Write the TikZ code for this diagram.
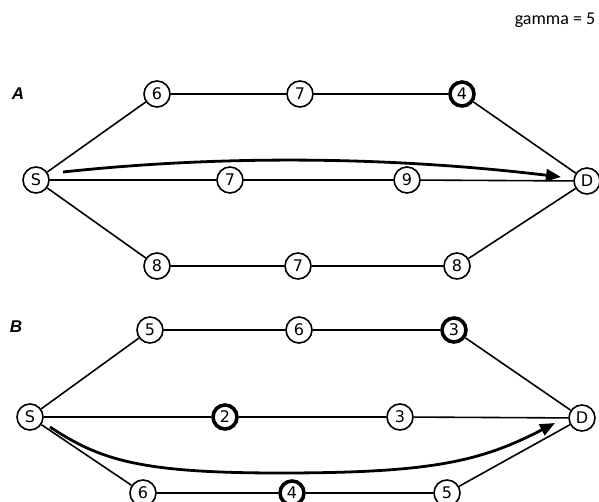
\documentclass[tikz,border=0pt]{standalone}
\usepackage{fontspec}
\setmainfont{Carlito}
\newfontfamily\nodefont{DejaVu Sans}
\newfontfamily\panelfont{Liberation Sans}
\usetikzlibrary{arrows.meta}
\begin{document}
\begin{tikzpicture}[x=1pt,y=-1pt,
every node/.style={circle,draw,line width=1.6pt,minimum size=26pt,inner sep=0pt,fill=white,font=\nodefont\fontsize{16}{16}\selectfont},
heavy/.style={line width=3.6pt,minimum size=24pt},
edge/.style={line width=1.6pt},
flow/.style={line width=2.8pt,-{Triangle[length=15pt,width=12pt]}},
panel/.style={draw=none,fill=none,font=\panelfont\bfseries\itshape\fontsize{17}{17}\selectfont},
]
\useasboundingbox (0,0) rectangle (599,502);
\node[draw=none,fill=none,font=\fontsize{18}{18}\selectfont] (gamma) at (555,20) {gamma = 5};
% panel A
\node[panel] (labA) at (18,94) {A};
\node (sA) at (36,180) {S};
\node (dA) at (587,181) {D};
\node (a1) at (157,94) {6};
\node (a2) at (300,94) {7};
\node[heavy] (a3) at (462,94) {4};
\node (a4) at (230,180) {7};
\node (a5) at (407,180) {9};
\node (a6) at (157,266) {8};
\node (a7) at (298,266) {7};
\node (a8) at (457,266) {8};
\draw[edge] (sA) -- (a1) -- (a2) -- (a3) -- (dA);
\draw[edge] (sA) -- (a4) -- (a5) -- (dA);
\draw[edge] (sA) -- (a6) -- (a7) -- (a8) -- (dA);
\coordinate (fromA) at (63,172);
\coordinate (toA) at (561,177);
\draw[flow] (fromA) .. controls (250,152) and (420,160) .. (toA);
% panel B
\node[panel] (labB) at (16,327) {B};
\node (sB) at (30,417) {S};
\node (dB) at (582,418) {D};
\node (b1) at (150,330) {5};
\node (b2) at (299,330) {6};
\node[heavy] (b3) at (454,330) {3};
\node[heavy] (b4) at (225,417) {2};
\node (b5) at (400,417) {3};
\node (b6) at (143,493) {6};
\node[heavy] (b7) at (292,493) {4};
\node (b8) at (447,493) {5};
\draw[edge] (sB) -- (b1) -- (b2) -- (b3) -- (dB);
\draw[edge] (sB) -- (b4) -- (b5) -- (dB);
\draw[edge] (sB) -- (b6) -- (b7) -- (b8) -- (dB);
\coordinate (fromB) at (50,427);
\coordinate (toB) at (555,423);
\draw[flow] (fromB) .. controls (100,460) and (140,473) .. (280,473)
  .. controls (430,473) and (480,462) .. (toB);
\end{tikzpicture}
\end{document}
